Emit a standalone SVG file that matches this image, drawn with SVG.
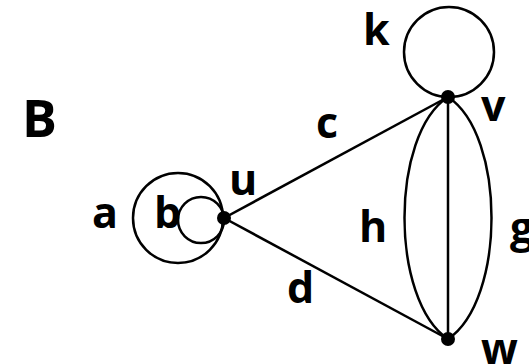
<svg xmlns="http://www.w3.org/2000/svg" width="529" height="364" viewBox="0 0 529 364">
<style>
.e{fill:none;stroke:#000;stroke-width:2.5}
.n{fill:#000}
text{font-family:"Open Sans","Noto Sans","Liberation Sans",sans-serif;font-weight:bold;fill:#000;font-size:43px}
</style>
<rect width="529" height="364" fill="#fff"/>
<text x="22" y="137" style="font-size:52px">B</text>
<g id="edges">
<circle class="e" cx="178" cy="218" r="45"/>
<circle class="e" cx="201" cy="220" r="23"/>
<circle class="e" cx="449" cy="52" r="45"/>
<line class="e" x1="224" y1="218" x2="448" y2="97"/>
<line class="e" x1="224" y1="218" x2="448" y2="339"/>
<line class="e" x1="448" y1="97" x2="448" y2="339"/>
<path class="e" d="M448,97 C390,135 390,300 448,339"/>
<path class="e" d="M448,97 C506,135 506,300 448,339"/>
</g>
<g id="u"><circle class="n" cx="224" cy="218" r="7"/><text x="229" y="195">u</text></g>
<g id="v"><circle class="n" cx="448" cy="97" r="7"/><text x="481" y="121">v</text></g>
<g id="w"><circle class="n" cx="448" cy="339" r="7"/><text x="481" y="364">w</text></g>
<g id="labels">
<text x="92" y="228">a</text>
<text x="154" y="228">b</text>
<text x="316" y="138">c</text>
<text x="287" y="303">d</text>
<text x="510" y="243">g</text>
<text x="359" y="242">h</text>
<text x="363" y="45">k</text>
</g>
</svg>
